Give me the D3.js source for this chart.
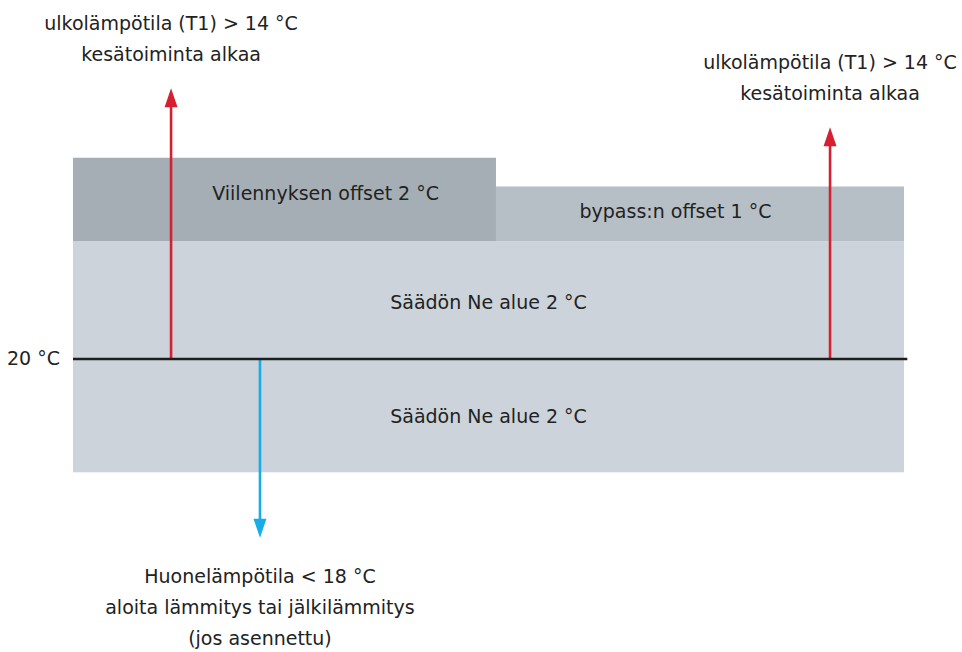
<!DOCTYPE html>
<html>
<head>
<meta charset="utf-8">
<script src="https://cdn.jsdelivr.net/npm/d3@7"></script>
<style>
  body { margin: 0; background: #fff; }
  svg text { font-family: "DejaVu Sans", sans-serif; fill: #222; }
</style>
</head>
<body>
<div id="chart"></div>
<script>
// Bands: x extent in % of the axis width, y extent in °C
const bandLabels = ["Säädön Ne alue 2 °C", "Säädön Ne alue 2 °C", "Viilennyksen offset 2 °C", "bypass:n offset 1 °C"];
const bandX0 = [0, 0, 0, 50.9];
const bandX1 = [100, 100, 50.9, 100];
const bandT0 = [18.03, 20, 22.05, 22.05];
const bandT1 = [20, 22.05, 23.5, 23.0];
const bandColors = ["#ccd3da", "#ccd3da", "#a4aeb4", "#b7bfc6"];
// where each band label sits (x in %, y in °C)
const bandLabelX = [50, 50, 30.4, 72.5];
const bandLabelT = [18.89, 20.87, 22.77, 22.45];

// Reference line
const refTemp = 20;
const refLabel = "20 °C";

// Arrows: x in %, from reference to tip temperature
const arrowX = [11.8, 91.1, 22.5];
const arrowTip = [24.71, 24.03, 16.89];
const arrowColors = ["#d42030", "#d42030", "#18ade6"];
const arrowText = [
  ["ulkolämpötila (T1) > 14 °C", "kesätoiminta alkaa"],
  ["ulkolämpötila (T1) > 14 °C", "kesätoiminta alkaa"],
  ["Huonelämpötila < 18 °C", "aloita lämmitys tai jälkilämmitys", "(jos asennettu)"]
];

const width = 962, height = 652;
const x = d3.scaleLinear().domain([0, 100]).range([73, 904]);
const y = d3.scaleLinear().domain([20, 21]).range([359, 301.5]);

const svg = d3.select("#chart").append("svg")
  .attr("width", width)
  .attr("height", height);

// bands
const bands = bandLabels.map((l, i) => ({
  l, x0: bandX0[i], x1: bandX1[i], t0: bandT0[i], t1: bandT1[i], c: bandColors[i],
  lx: bandLabelX[i], lt: bandLabelT[i]
}));
svg.selectAll("rect.band")
  .data(bands)
  .enter().append("rect")
  .attr("class", "band")
  .attr("x", d => x(d.x0))
  .attr("width", d => x(d.x1) - x(d.x0))
  .attr("y", d => y(d.t1))
  .attr("height", d => y(d.t0) - y(d.t1))
  .attr("fill", d => d.c);

svg.selectAll("text.band-label")
  .data(bands)
  .enter().append("text")
  .attr("class", "band-label")
  .attr("x", d => x(d.lx))
  .attr("y", d => y(d.lt))
  .attr("text-anchor", "middle")
  .style("font-size", "19px")
  .text(d => d.l);

// arrows
const arrows = arrowX.map((ax, i) => ({ ax, tip: arrowTip[i], c: arrowColors[i], lines: arrowText[i] }));
const headLen = 19, headW = 6.5, lineH = 31;
arrows.forEach(a => {
  const dir = a.tip > refTemp ? -1 : 1; // screen direction
  const xp = x(a.ax), y0 = y(refTemp), yt = y(a.tip);
  svg.append("line")
    .attr("x1", xp).attr("x2", xp)
    .attr("y1", y0).attr("y2", yt - dir * (headLen - 2))
    .attr("stroke", a.c)
    .attr("stroke-width", 2.6);
  svg.append("path")
    .attr("d", `M${xp},${yt} L${xp - headW},${yt - dir * headLen} L${xp + headW},${yt - dir * headLen} Z`)
    .attr("fill", a.c);

  const n = a.lines.length;
  const base = dir < 0 ? yt - 27 - (n - 1) * lineH : yt + 45;
  const t = svg.append("text")
    .attr("text-anchor", "middle")
    .style("font-size", "19px");
  a.lines.forEach((s, j) => {
    t.append("tspan")
      .attr("x", xp)
      .attr("y", base + j * lineH)
      .text(s);
  });
});

// reference line
svg.append("line")
  .attr("x1", x(0)).attr("x2", x(100.4))
  .attr("y1", y(refTemp)).attr("y2", y(refTemp))
  .attr("stroke", "#1e1e1e")
  .attr("stroke-width", 2.6);

svg.append("text")
  .attr("x", 60)
  .attr("y", y(refTemp) + 6)
  .attr("text-anchor", "end")
  .style("font-size", "19px")
  .text(refLabel);
</script>
</body>
</html>
